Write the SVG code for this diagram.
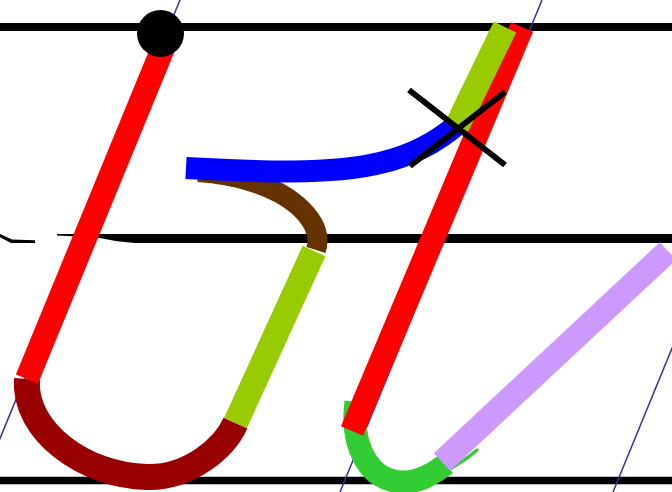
<svg xmlns="http://www.w3.org/2000/svg" width="672" height="492" viewBox="0 0 672 492">
<style>
.rule{stroke:#000;fill:none}
.guide{stroke:#333399;stroke-width:1.5;fill:none}
.s{fill:none;stroke-linecap:butt;stroke-linejoin:round}
</style>
<rect x="0" y="0" width="672" height="492" fill="#fff"/>
<g id="rules">
<line class="rule" x1="0" y1="27" x2="672" y2="27" stroke-width="8"/>
<line class="rule" x1="0" y1="238.6" x2="672" y2="238.6" stroke-width="9"/>
<line class="rule" x1="0" y1="480.5" x2="672" y2="480.5" stroke-width="7.5"/>
<g fill="#fff">
<polygon points="0,237.3 12,243.6 0,243.6"/>
<polygon points="0,233.5 35,233.5 35,240.3 12,239.5 0,234"/>
<polygon points="35,233 57,233 57,235.4 97,237.6 117,241.3 140,243.4 140,245 35,245"/>
</g>
</g>
<g id="guides">
<line class="guide" x1="180" y1="0" x2="-22" y2="492"/>
<line class="guide" x1="542" y1="0" x2="340" y2="492"/>
<line class="guide" x1="700" y1="280" x2="613" y2="492"/>
</g>
<g id="strokes">
<path id="green" class="s" d="M356,402 C350,447 370,482 403,482 C420,482 433,474 446,464" stroke="#33cc33" stroke-width="23"/>
<path id="green-tail" d="M444,472 Q462,463 477,450" fill="none" stroke="#33cc33" stroke-width="3.5" stroke-linecap="round"/>
<line id="lavender" class="s" x1="442" y1="462" x2="668" y2="251" stroke="#cc99ff" stroke-width="24"/>
<path id="darkred" class="s" d="M27,379 C23,431 85,476 147,477 C190,478 225,447 235.5,423" stroke="#990000" stroke-width="26"/>
<line id="red1" class="s" x1="168" y1="36" x2="27" y2="379" stroke="#ff0000" stroke-width="24"/>
<line id="yg1" class="s" x1="235.5" y1="423" x2="314" y2="251" stroke="#99cc00" stroke-width="25"/>
<path id="brown" class="s" d="M198,172 C235,174 275,186 297,205 C313,219 321,234 316,250" stroke="#663300" stroke-width="20"/>
<path id="blue" class="s" d="M186,168 C260,172 330,175 380,163 C415,155 440,140 460,122" stroke="#0000ff" stroke-width="22"/>
<line id="red2" class="s" x1="522" y1="27" x2="352" y2="431" stroke="#ff0000" stroke-width="24"/>
<line id="yg2" class="s" x1="457" y1="126" x2="505" y2="27" stroke="#99cc00" stroke-width="25"/>
</g>
<g id="cross" stroke="#000" stroke-width="6">
<line x1="409" y1="90" x2="505" y2="165"/>
<line x1="410" y1="166" x2="505" y2="92"/>
</g>
<circle id="start-dot" cx="160.5" cy="33.5" r="23.5" fill="#000"/>
</svg>
